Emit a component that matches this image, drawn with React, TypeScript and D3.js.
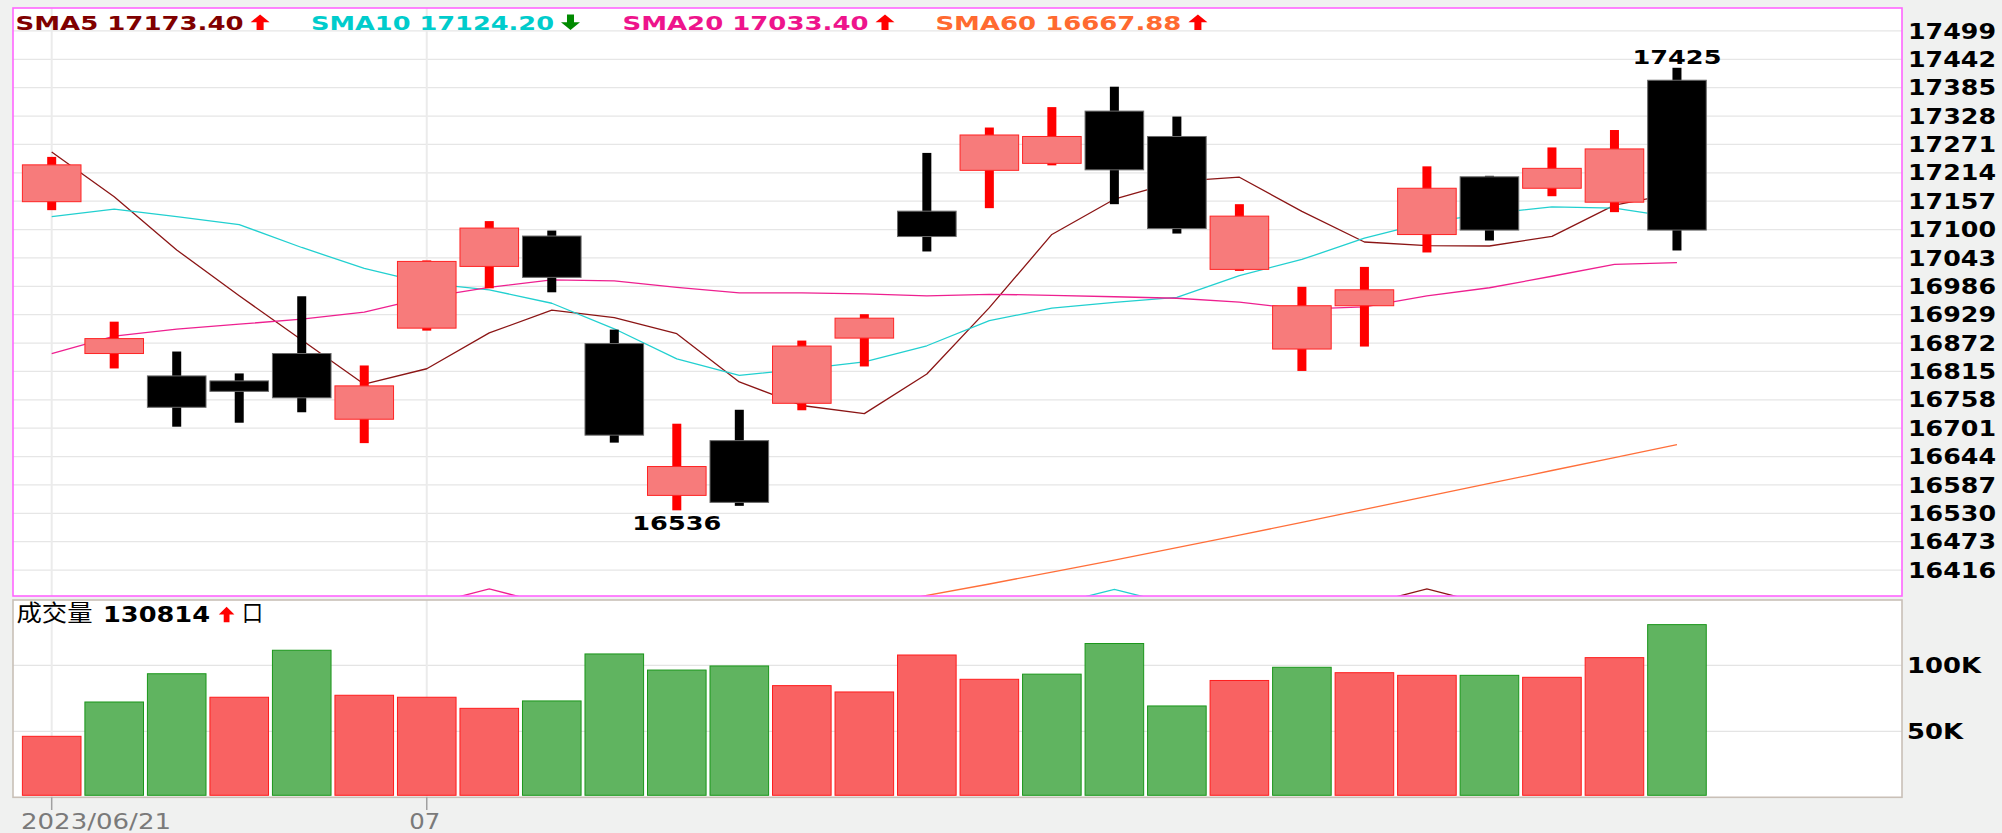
import React from 'react';
import * as d3 from 'd3';

const dates = ['2023/06/21','2023/06/26','2023/06/27','2023/06/28','2023/06/29','2023/06/30','2023/07/03','2023/07/04','2023/07/05','2023/07/06','2023/07/07','2023/07/10','2023/07/11','2023/07/12','2023/07/13','2023/07/14','2023/07/17','2023/07/18','2023/07/19','2023/07/20','2023/07/21','2023/07/24','2023/07/25','2023/07/26','2023/07/27','2023/07/28','2023/07/31'];
const openP = [17156,16851,16806,16796,16851,16719,16902,17026,17087,16871,16566,16676,16751,16882,17137,17219,17233,17338,17287,17020,16860,16947,17090,17206,17183,17155,17400];
const highP = [17246,16915,16855,16811,16966,16827,17038,17117,17098,16899,16710,16738,16877,16930,17254,17305,17346,17387,17327,17151,16985,17025,17227,17208,17265,17300,17425];
const lowP = [17139,16821,16704,16712,16733,16671,16897,16982,16974,16672,16536,16545,16737,16825,17056,17143,17229,17151,17092,17017,16816,16865,17054,17078,17167,17135,17058];
const closeP = [17230,16881,16743,16775,16762,16786,17036,17103,17004,16687,16624,16552,16866,16922,17086,17290,17287,17220,17102,17127,16947,16979,17183,17099,17223,17262,17099];
const volume = [46200,72200,93600,75800,111400,77300,75800,67400,73000,108600,96400,99500,84600,79800,107800,89400,93300,116500,69200,88500,98500,94400,92400,92400,90900,105800,130814];
const sma5 = [17256,17166,17059,16967,16878.2,16789.4,16820.4,16892.4,16938.2,16923.2,16890.8,16794,16746.6,16730.2,16810,16943.2,17090.2,17161,17197,17205.2,17136.6,17075,17067.6,17067,17086.2,17149.2,17173.4];
const sma10 = [17126,17141,17126,17110,17064,17022,16992,16979,16952,16900.7,16840.1,16807.2,16819.5,16834.2,16866.6,16917,16942.1,16953.8,16963.6,17007.6,17039.9,17082.6,17114.3,17132,17145.7,17142.9,17124.2];
const sma20 = [16851,16886,16900,16910,16920,16934,16964,16984,16999,16997,16984,16973,16973,16971,16967,16970,16968,16965,16962,16954.2,16940,16944.9,16966.9,16983.1,17006.2,17030,17033.4];
const sma60: (number | null)[] = [null,null,null,null,null,null,null,null,null,null,null,null,null,16342,16365,16388,16412,16436,16461,16486,16512,16538,16564,16590,16616,16642,16667.88];
const priceTicks = [17499,17442,17385,17328,17271,17214,17157,17100,17043,16986,16929,16872,16815,16758,16701,16644,16587,16530,16473,16416];
const volumeTicks = [50000, 100000];
const volumeTickLabels = ['50K', '100K'];
// small line fragments peeking above the bottom edge of the price panel
const spikeIdx = [7, 17, 22];
const spikeSeries = ['SMA20', 'SMA10', 'SMA5'];
const spikePeak = [16378, 16377, 16378];
const spikeBase = [16346, 16346, 16346];

const COLORS: Record<string, string> = {
  SMA5: '#800000',
  SMA10: '#00cccc',
  SMA20: '#ee148c',
  SMA60: '#ff6a30',
};
const LINE_COLORS: Record<string, string> = {
  SMA5: '#8b1515',
  SMA10: '#22d0d0',
  SMA20: '#ee2090',
  SMA60: '#ff6f3a',
};

function Arrow({ cx, top, bottom, w, up, color }: { cx: number; top: number; bottom: number; w: number; up: boolean; color: string }) {
  const hh = (bottom - top) * 0.5;
  const sw = w * 0.37;
  let d: string;
  if (up) {
    d = `M${cx},${top} L${cx + w / 2},${top + hh} L${cx + sw / 2},${top + hh} L${cx + sw / 2},${bottom} L${cx - sw / 2},${bottom} L${cx - sw / 2},${top + hh} L${cx - w / 2},${top + hh} Z`;
  } else {
    d = `M${cx},${bottom} L${cx + w / 2},${bottom - hh} L${cx + sw / 2},${bottom - hh} L${cx + sw / 2},${top} L${cx - sw / 2},${top} L${cx - sw / 2},${bottom - hh} L${cx - w / 2},${bottom - hh} Z`;
  }
  return <path d={d} fill={color} />;
}

export default function App() {
  const W = 2002, H = 833;
  const P = { l: 13, r: 1902, t: 8, b: 596 };
  const V = { t: 600, b: 797.3 };
  const n = dates.length;
  const idx = d3.range(n);
  const x = d3.scaleLinear().domain([-0.619, 29.6]).range([P.l, P.r]);
  const y = d3.scaleLinear().domain([16363.9, 17545.1]).range([P.b, P.t]);
  const yv = d3.scaleLinear().domain([0, 100000]).range([V.b, 665.3]);
  const bodyW = 58.6, wickW = 9;
  const fLatin = '"DejaVu Sans", Verdana, sans-serif';
  const fCJK = '"Noto Sans CJK TC", "Noto Sans CJK SC", sans-serif';
  const fmt2 = d3.format('.2f');

  const mkLine = (arr: (number | null)[]) =>
    d3.line<number>().defined((i) => arr[i] != null).x((i) => x(i)).y((i) => y(arr[i] as number))(idx) || '';

  const series = [
    { name: 'SMA5', data: sma5 as (number | null)[] },
    { name: 'SMA10', data: sma10 as (number | null)[] },
    { name: 'SMA20', data: sma20 as (number | null)[] },
    { name: 'SMA60', data: sma60 },
  ];
  const legendX = [15.6, 311, 622.5, 935.4];
  const legendW = [228, 243, 246, 246];

  const xTickIdx = idx.filter((i) => i === 0 || dates[i].slice(5, 7) !== dates[i - 1].slice(5, 7));
  const xTickLabel = (i: number) => (i === 0 ? dates[0] : dates[i].slice(5, 7));
  const xLabelW = (s: string) => (s.length > 4 ? 150 : 31);

  const hiI = d3.maxIndex(highP);
  const loI = d3.minIndex(lowP);

  const volUp = (i: number) => (i === 0 ? closeP[0] >= openP[0] : closeP[i] >= closeP[i - 1]);
  const lastVol = volume[n - 1];

  return (
    <svg width={W} height={H} style={{ position: 'absolute', left: 0, top: 0, display: 'block' }} xmlns="http://www.w3.org/2000/svg">
      <defs>
        <clipPath id="mainClip">
          <rect x={P.l} y={P.t} width={P.r - P.l} height={P.b - P.t} />
        </clipPath>
        <clipPath id="volClip">
          <rect x={P.l} y={V.t} width={P.r - P.l} height={V.b - V.t} />
        </clipPath>
      </defs>
      <rect x={0} y={0} width={W} height={H} fill="#f0f1f0" />

      {/* main panel */}
      <rect x={P.l} y={P.t} width={P.r - P.l} height={P.b - P.t} fill="#ffffff" />
      {priceTicks.map((t) => (
        <line key={'g' + t} x1={P.l} x2={P.r} y1={y(t)} y2={y(t)} stroke="#e6e6e6" strokeWidth={1.2} />
      ))}
      {xTickIdx.map((i) => (
        <line key={'vg' + i} x1={x(i)} x2={x(i)} y1={P.t} y2={P.b} stroke="#ebebeb" strokeWidth={2} />
      ))}

      <g clipPath="url(#mainClip)">
        {series.map((s) => (
          <path key={s.name} d={mkLine(s.data)} fill="none" stroke={LINE_COLORS[s.name]} strokeWidth={1.3} strokeLinejoin="round" />
        ))}
        {spikeIdx.map((si, k) => {
          const pts: [number, number][] = [
            [x(si - 1), y(spikeBase[k])],
            [x(si), y(spikePeak[k])],
            [x(si + 1), y(spikeBase[k])],
          ];
          return <path key={'sp' + k} d={d3.line()(pts) || ''} fill="none" stroke={LINE_COLORS[spikeSeries[k]]} strokeWidth={1.3} />;
        })}
        {idx.map((i) => {
          const up = closeP[i] >= openP[i];
          const cx = x(i);
          const yt = y(Math.max(openP[i], closeP[i]));
          const yb = y(Math.min(openP[i], closeP[i]));
          return (
            <g key={'c' + i}>
              <rect x={cx - wickW / 2} y={y(highP[i])} width={wickW} height={y(lowP[i]) - y(highP[i])} fill={up ? '#ff0000' : '#000000'} />
              <rect
                x={cx - bodyW / 2}
                y={yt}
                width={bodyW}
                height={Math.max(1, yb - yt)}
                fill={up ? '#f77b7b' : '#000000'}
                stroke={up ? '#ff2424' : '#6a6a6a'}
                strokeWidth={1}
              />
            </g>
          );
        })}
      </g>
      <rect x={P.l} y={P.t} width={P.r - P.l} height={P.b - P.t} fill="none" stroke="#ff66ff" strokeWidth={1.6} />

      {/* high / low annotations */}
      <text x={x(hiI)} y={y(highP[hiI]) - 4} textAnchor="middle" fontFamily={fLatin} fontWeight="bold" fontSize={20} textLength={89} lengthAdjust="spacingAndGlyphs" fill="#000">
        {highP[hiI]}
      </text>
      <text x={x(loI)} y={y(lowP[loI]) + 20} textAnchor="middle" fontFamily={fLatin} fontWeight="bold" fontSize={20} textLength={89} lengthAdjust="spacingAndGlyphs" fill="#000">
        {lowP[loI]}
      </text>

      {/* legend */}
      {series.map((s, k) => {
        const last = s.data[n - 1] as number;
        const prev = s.data[n - 2] as number;
        const up = last >= prev;
        const txt = `${s.name} ${fmt2(last)}`;
        const ax = legendX[k] + legendW[k] + 7 + 9.5;
        return (
          <g key={'lg' + k}>
            <text x={legendX[k]} y={29.8} fontFamily={fLatin} fontWeight="bold" fontSize={20} fill={COLORS[s.name]} textLength={legendW[k]} lengthAdjust="spacingAndGlyphs">
              {txt}
            </text>
            <Arrow cx={ax} top={14.5} bottom={30} w={19} up={up} color={up ? '#ff0000' : '#008a00'} />
          </g>
        );
      })}

      {/* price axis labels */}
      {priceTicks.map((t) => (
        <text key={'yl' + t} x={1908} y={y(t) + 7.6} fontFamily={fLatin} fontWeight="bold" fontSize={21.5} fill="#000" textLength={88} lengthAdjust="spacingAndGlyphs">
          {t}
        </text>
      ))}

      {/* volume panel */}
      <rect x={P.l} y={V.t} width={P.r - P.l} height={V.b - V.t} fill="#ffffff" />
      {volumeTicks.map((t) => (
        <line key={'vgl' + t} x1={P.l} x2={P.r} y1={yv(t)} y2={yv(t)} stroke="#e4e4e4" strokeWidth={1.3} />
      ))}
      {xTickIdx.map((i) => (
        <line key={'vvg' + i} x1={x(i)} x2={x(i)} y1={V.t} y2={V.b} stroke="#ebebeb" strokeWidth={2} />
      ))}
      <g clipPath="url(#volClip)">
        {idx.map((i) => {
          const up = volUp(i);
          const cx = x(i);
          return (
            <rect
              key={'v' + i}
              x={cx - bodyW / 2}
              y={yv(volume[i])}
              width={bodyW}
              height={V.b - 2 - yv(volume[i])}
              fill={up ? '#f96262' : '#60b460'}
              stroke={up ? '#ff1c1c' : '#1a961a'}
              strokeWidth={1}
            />
          );
        })}
      </g>
      <rect x={P.l} y={V.t} width={P.r - P.l} height={V.b - V.t} fill="none" stroke="#c9c0b7" strokeWidth={1.6} />
      {volumeTicks.map((t, k) => (
        <text key={'vl' + t} x={1907} y={yv(t) + 7.4} fontFamily={fLatin} fontWeight="bold" fontSize={20.5} fill="#000" textLength={volumeTickLabels[k].length === 4 ? 74 : 56} lengthAdjust="spacingAndGlyphs">
          {volumeTickLabels[k]}
        </text>
      ))}

      {/* volume title */}
      <text x={16.5} y={620.8} fontFamily={fCJK} fontSize={23} fill="#000" textLength={76} lengthAdjust="spacingAndGlyphs">成交量</text>
      <text x={103} y={622.3} fontFamily={fLatin} fontWeight="bold" fontSize={21.5} fill="#000" textLength={107} lengthAdjust="spacingAndGlyphs">{lastVol}</text>
      <Arrow cx={226.6} top={606.7} bottom={622.3} w={15.6} up={lastVol >= volume[n - 2]} color="#ff0000" />
      <text x={242} y={620.8} fontFamily={fCJK} fontSize={23} fill="#000" textLength={21} lengthAdjust="spacingAndGlyphs">口</text>

      {/* x axis */}
      {xTickIdx.map((i) => {
        const lab = xTickLabel(i);
        const w = xLabelW(lab);
        const left = Math.max(21, x(i) - w / 2 - 2);
        return (
          <g key={'xt' + i}>
            <line x1={x(i)} x2={x(i)} y1={V.b} y2={810} stroke="#a0a0a0" strokeWidth={1.5} />
            <text x={left} y={829} fontFamily={fLatin} fontSize={20.5} fill="#7a7a7a" textLength={w} lengthAdjust="spacingAndGlyphs">
              {lab}
            </text>
          </g>
        );
      })}
    </svg>
  );
}
